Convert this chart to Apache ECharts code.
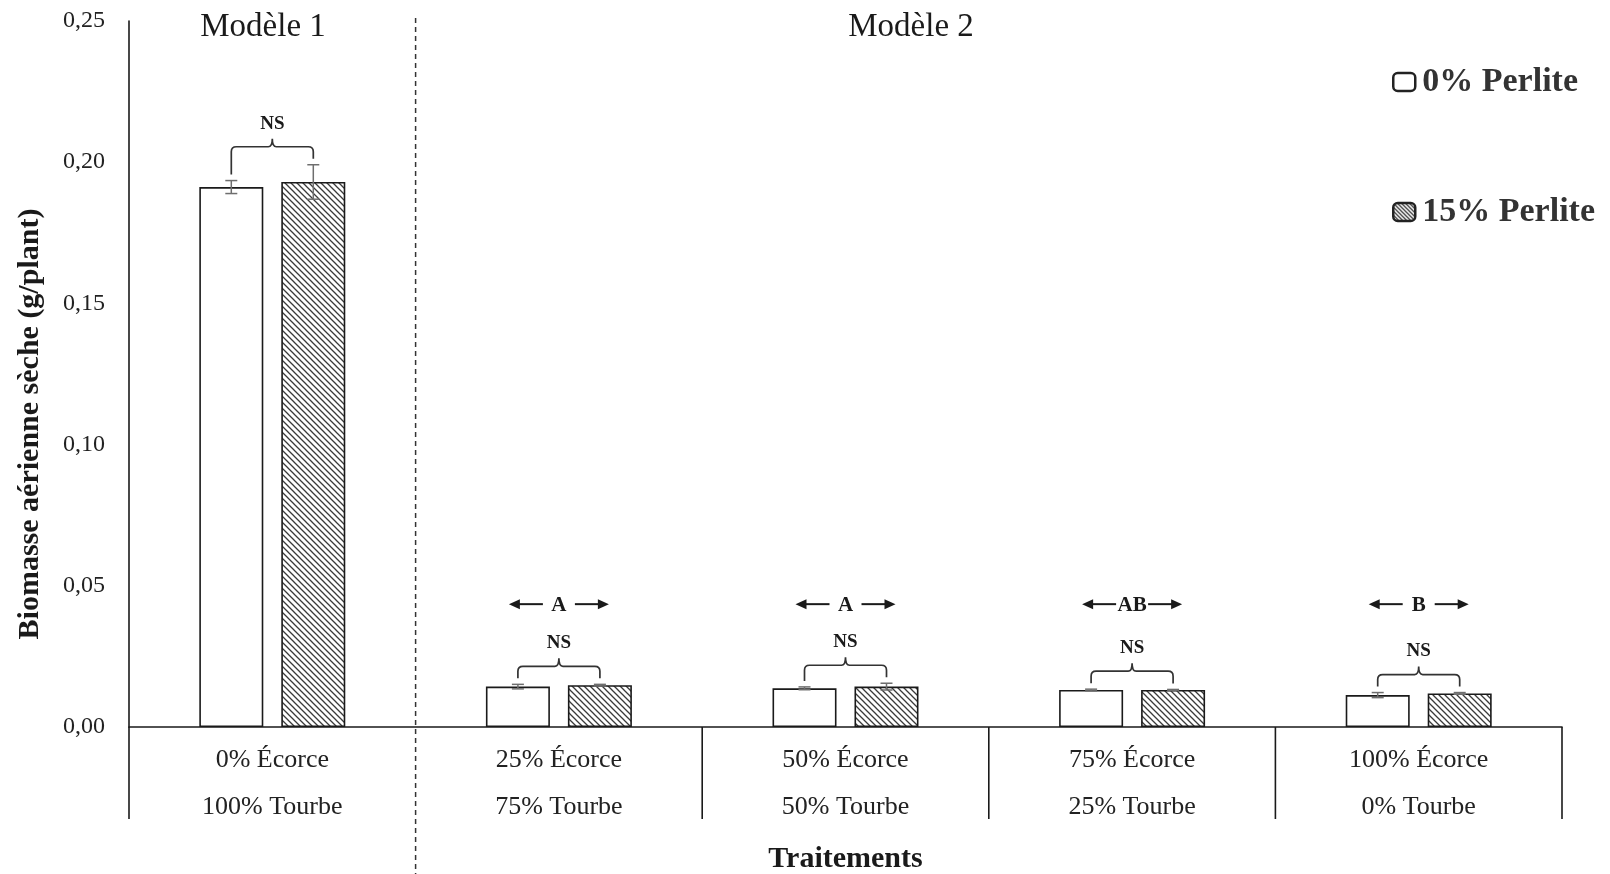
<!DOCTYPE html>
<html>
<head>
<meta charset="utf-8">
<script src="https://cdn.jsdelivr.net/npm/echarts@6/dist/echarts.min.js"></script>
<style>
  html, body { margin: 0; padding: 0; background: #fff; }
  #chart { width: 1610px; height: 874px; }
</style>
</head>
<body>
<div id="chart"></div>
<script>
// Substrate mixes (bark / peat)
const ecorce = ['0% Écorce', '25% Écorce', '50% Écorce', '75% Écorce', '100% Écorce'];
const tourbe = ['100% Tourbe', '75% Tourbe', '50% Tourbe', '25% Tourbe', '0% Tourbe'];

// Shoot dry biomass (g/plant) and standard errors
const perlite0 = [0.1912, 0.0143, 0.0137, 0.0131, 0.0113];
const perlite15 = [0.1930, 0.0148, 0.0143, 0.0131, 0.0119];
const err0 = [0.0023, 0.0008, 0.0005, 0.0003, 0.0009];
const err15 = [0.0061, 0.0003, 0.0012, 0.0002, 0.0003];

// Statistical annotations
const nsLabels = ['NS', 'NS', 'NS', 'NS', 'NS'];
const groupLetters = ['', 'A', 'A', 'AB', 'B'];

const seriesNames = ['0% Perlite', '15% Perlite'];
const yTicks = { min: 0, max: 0.25, step: 0.05 };

const SERIF = '"Liberation Serif", "DejaVu Serif", serif';
const INK = '#1a1a1a';
const BAR_W = 64;
const BAR_GAP = 18;
const HALF = (BAR_W + BAR_GAP) / 2;
const LETTER_LEVEL = 0.0435;

// Diagonal hatch tile for the 15% perlite bars
function hatchTile(size) {
  const c = document.createElement('canvas');
  c.width = c.height = size;
  const g = c.getContext('2d');
  g.fillStyle = '#fff';
  g.fillRect(0, 0, size, size);
  g.strokeStyle = '#3a3a3a';
  g.lineWidth = 1.3;
  g.beginPath();
  g.moveTo(-1, -1); g.lineTo(size + 1, size + 1);
  g.moveTo(-1, size - 1); g.lineTo(1, size + 1);
  g.moveTo(size - 1, -1); g.lineTo(size + 1, 1);
  g.stroke();
  return c;
}
const hatchFill = { image: hatchTile(6), repeat: 'repeat' };
const legendHatch = { image: hatchTile(4), repeat: 'repeat' };

const chart = echarts.init(document.getElementById('chart'), null, { renderer: 'canvas' });

function errorBarSeries(values, errs, side) {
  return {
    type: 'custom',
    silent: true,
    z: 5,
    data: values.map((v, i) => [i, v, errs[i]]),
    encode: { x: 0, y: 1 },
    renderItem(params, api) {
      const i = api.value(0), v = api.value(1), e = api.value(2);
      const x = api.coord([i, 0])[0] + side * HALF;
      const yTop = api.coord([i, v + e])[1];
      const yBot = api.coord([i, v - e])[1];
      const st = { stroke: '#6e6e6e', lineWidth: 1.5 };
      return {
        type: 'group',
        children: [
          { type: 'line', shape: { x1: x, y1: yTop, x2: x, y2: yBot }, style: st },
          { type: 'line', shape: { x1: x - 6, y1: yTop, x2: x + 6, y2: yTop }, style: st },
          { type: 'line', shape: { x1: x - 6, y1: yBot, x2: x + 6, y2: yBot }, style: st }
        ]
      };
    }
  };
}

const bracketSeries = {
  type: 'custom',
  silent: true,
  z: 6,
  data: perlite0.map((v, i) => [i, v + err0[i], perlite15[i] + err15[i], nsLabels[i]]),
  encode: { x: 0, y: 1 },
  renderItem(params, api) {
    const i = api.value(0);
    const cx = api.coord([i, 0])[0];
    const xL = cx - HALF, xR = cx + HALF;
    const yL = api.coord([i, api.value(1)])[1] - 6;
    const yR = api.coord([i, api.value(2)])[1] - 6;
    const yH = Math.min(yL, yR) - 12;
    const r = 5;
    const d = `M${xL} ${yL} L${xL} ${yH + r} Q${xL} ${yH} ${xL + r} ${yH} L${cx - 4} ${yH} ` +
      `Q${cx} ${yH} ${cx} ${yH - 8} Q${cx} ${yH} ${cx + 4} ${yH} L${xR - r} ${yH} ` +
      `Q${xR} ${yH} ${xR} ${yH + r} L${xR} ${yR}`;
    return {
      type: 'group',
      children: [
        { type: 'path', shape: { pathData: d }, style: { fill: null, stroke: '#333', lineWidth: 1.7 } },
        {
          type: 'text',
          style: {
            text: api.value(3), x: cx, y: yH - 23, align: 'center', verticalAlign: 'middle',
            font: `bold 19px ${SERIF}`, fill: INK
          }
        }
      ]
    };
  }
};

const letterSeries = {
  type: 'custom',
  silent: true,
  z: 6,
  data: groupLetters.map((t, i) => [i, LETTER_LEVEL, t]),
  encode: { x: 0, y: 1 },
  renderItem(params, api) {
    const t = api.value(2);
    if (!t) return null;
    const [cx, y] = api.coord([api.value(0), api.value(1)]);
    const ink = { stroke: INK, lineWidth: 2 };
    const head = 9;
    return {
      type: 'group',
      children: [
        { type: 'line', shape: { x1: cx - 42, y1: y, x2: cx - 16, y2: y }, style: ink },
        { type: 'polygon', shape: { points: [[cx - 50, y], [cx - 50 + head + 2, y - 5], [cx - 50 + head + 2, y + 5]] }, style: { fill: INK } },
        { type: 'line', shape: { x1: cx + 16, y1: y, x2: cx + 42, y2: y }, style: ink },
        { type: 'polygon', shape: { points: [[cx + 50, y], [cx + 50 - head - 2, y - 5], [cx + 50 - head - 2, y + 5]] }, style: { fill: INK } },
        {
          type: 'text',
          style: { text: t, x: cx, y: y + 1, align: 'center', verticalAlign: 'middle', font: `bold 21px ${SERIF}`, fill: INK }
        }
      ]
    };
  }
};

// Category separators below the axis; the model boundary is a full-height dashed line
const separatorSeries = {
  type: 'custom',
  silent: true,
  z: 1,
  data: ecorce.map((_, i) => [i, 0]),
  encode: { x: 0, y: 1 },
  renderItem(params, api) {
    const i = api.value(0);
    const band = api.size([1, 0])[0];
    const [cx, y0] = api.coord([i, 0]);
    const xl = cx - band / 2, xr = cx + band / 2;
    const solid = { stroke: INK, lineWidth: 1.6 };
    const children = [];
    if (i === 1) {
      children.push({ type: 'line', shape: { x1: xl, y1: 18, x2: xl, y2: 874 }, style: { stroke: '#333', lineWidth: 1.5, lineDash: [5, 4] } });
    } else {
      children.push({ type: 'line', shape: { x1: xl, y1: y0, x2: xl, y2: y0 + 92 }, style: solid });
    }
    if (i === ecorce.length - 1) {
      children.push({ type: 'line', shape: { x1: xr, y1: y0, x2: xr, y2: y0 + 92 }, style: solid });
    }
    return { type: 'group', children };
  }
};

const option = {
  backgroundColor: '#fff',
  animation: false,
  textStyle: { fontFamily: SERIF },
  grid: { left: 129, right: 48, top: 21, bottom: 147, containLabel: false, outerBoundsMode: 'none' },
  legend: {
    orient: 'vertical',
    left: 1387,
    top: 59,
    itemWidth: 22,
    itemHeight: 18,
    itemGap: 94,
    selectedMode: false,
    textStyle: { fontFamily: SERIF, fontSize: 34, fontWeight: 'bold', color: '#333', lineHeight: 36, padding: [0, 0, 0, 2] },
    data: [
      { name: seriesNames[0], icon: 'roundRect', itemStyle: { color: '#fff', borderColor: '#222', borderWidth: 2.5 } },
      { name: seriesNames[1], icon: 'roundRect', itemStyle: { color: legendHatch, borderColor: '#222', borderWidth: 2.5 } }
    ]
  },
  xAxis: {
    type: 'category',
    data: ecorce.map((e, i) => e + '\n' + tourbe[i]),
    axisLine: { lineStyle: { color: INK, width: 1.6 } },
    axisTick: { show: false },
    axisLabel: { fontFamily: SERIF, fontSize: 26, color: '#222', lineHeight: 47, margin: 10 },
    name: 'Traitements',
    nameLocation: 'middle',
    nameGap: 117,
    nameTextStyle: { fontFamily: SERIF, fontSize: 30, fontWeight: 'bold', color: INK }
  },
  yAxis: {
    type: 'value',
    min: yTicks.min,
    max: yTicks.max,
    interval: yTicks.step,
    axisLine: { show: true, lineStyle: { color: INK, width: 1.6 } },
    axisTick: { show: false },
    splitLine: { show: false },
    axisLabel: {
      fontFamily: SERIF, fontSize: 24, color: '#222', margin: 24,
      formatter: v => v.toFixed(2).replace('.', ',')
    }
  },
  graphic: [
    { type: 'text', x: 263, y: 27, style: { text: 'Modèle 1', font: `33px ${SERIF}`, fill: INK, align: 'center', verticalAlign: 'middle' } },
    { type: 'text', x: 911, y: 27, style: { text: 'Modèle 2', font: `33px ${SERIF}`, fill: INK, align: 'center', verticalAlign: 'middle' } },
    {
      type: 'text', x: 30, y: 424, rotation: Math.PI / 2,
      style: { text: 'Biomasse aérienne sèche (g/plant)', font: `bold 30px ${SERIF}`, fill: INK, align: 'center', verticalAlign: 'middle' }
    }
  ],
  series: [
    separatorSeries,
    {
      name: seriesNames[0],
      type: 'bar',
      data: perlite0,
      barWidth: BAR_W,
      barGap: (BAR_GAP / BAR_W * 100).toFixed(1) + '%',
      itemStyle: { color: '#fff', borderColor: INK, borderWidth: 1.6 },
      z: 3
    },
    {
      name: seriesNames[1],
      type: 'bar',
      data: perlite15,
      barWidth: BAR_W,
      itemStyle: { color: hatchFill, borderColor: INK, borderWidth: 1.6 },
      z: 3
    },
    errorBarSeries(perlite0, err0, -1),
    errorBarSeries(perlite15, err15, 1),
    bracketSeries,
    letterSeries
  ]
};

chart.setOption(option);
</script>
</body>
</html>
